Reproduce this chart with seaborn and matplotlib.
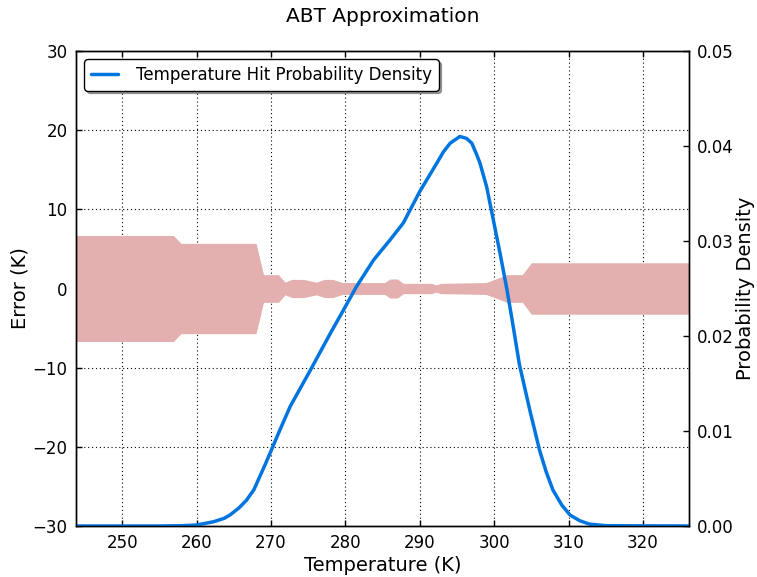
import numpy as np
import pandas as pd
import matplotlib
matplotlib.use("Agg")
import matplotlib.pyplot as plt
import seaborn as sns

# error band (half width, K) along temperature
band_temp = [243.8, 256.9, 257.9, 268.0, 269.0, 271.0, 271.9, 272.8, 274.4, 276.1,
             277.2, 278.3, 279.6, 285.3, 286.0, 287.0, 287.8, 291.6, 292.2, 292.8,
             298.9, 300.2, 301.7, 303.8, 305.0, 326.2]
band_half = [6.7, 6.7, 5.7, 5.7, 1.75, 1.75, 0.8, 1.15, 1.15, 0.8,
             1.15, 1.15, 0.75, 0.75, 1.2, 1.2, 0.65, 0.65, 0.45, 0.65,
             0.75, 1.2, 1.75, 1.75, 3.25, 3.25]

# temperature hit probability density
dens_temp = [243.8, 255.0, 258.0, 260.0, 262.3, 263.7, 264.5, 265.7, 266.7, 267.7,
             268.5, 269.3, 269.9, 271.2, 272.6, 275.3, 278.0, 279.3, 281.5, 283.8,
             286.0, 287.8, 290.0, 292.3, 293.2, 294.1, 295.4, 296.3, 297.0, 297.6,
             298.1, 299.0, 299.9, 300.8, 301.7, 302.4, 303.4, 304.8, 306.1, 307.0,
             307.9, 309.1, 310.2, 311.5, 312.8, 315.0, 326.2]
dens_val = [0.0, 0.0, 0.00003, 0.0001, 0.00045, 0.0008, 0.00116, 0.0019, 0.0027, 0.0038,
            0.0052, 0.0066, 0.0077, 0.0101, 0.0126, 0.0164, 0.0203, 0.0221, 0.0252, 0.028,
            0.0301, 0.0319, 0.0352, 0.0382, 0.0394, 0.0403, 0.0410, 0.0408, 0.0403, 0.0392,
            0.0382, 0.0357, 0.0322, 0.0287, 0.0250, 0.0218, 0.0170, 0.0122, 0.008, 0.0057,
            0.0038, 0.0022, 0.00116, 0.00056, 0.0002, 0.00003, 0.0]

sns.set_style("ticks", {"xtick.direction": "in", "ytick.direction": "in",
                        "axes.edgecolor": "black", "text.color": "black",
                        "axes.labelcolor": "black", "xtick.color": "black",
                        "ytick.color": "black"})
plt.rcParams['font.family'] = ['DejaVu Sans']
plt.rcParams['xtick.top'] = True

df = pd.DataFrame({"T": dens_temp, "density": dens_val})
bt = np.array(band_temp)
bh = np.array(band_half)

fig = plt.figure(figsize=(7.57, 5.77), dpi=100)
ax = fig.add_axes([0.1004, 0.0884, 0.8098, 0.8232])
ax.fill_between(bt, -bh, bh, color="#e4afaf", linewidth=0)
ax.set_xlim(243.8, 326.2)
ax.set_ylim(-30, 30)
ax.set_xticks([250, 260, 270, 280, 290, 300, 310, 320])
ax.set_yticks([-30, -20, -10, 0, 10, 20, 30])
ax.set_yticklabels(["\u221230", "\u221220", "\u221210", "0", "10", "20", "30"])
ax.grid(True, color="black", linestyle=(0, (1, 2.5)), linewidth=0.8)
ax.set_xlabel("Temperature (K)", fontsize=14, labelpad=3)
ax.set_ylabel("Error (K)", fontsize=14, labelpad=2)
ax.set_title("ABT Approximation", fontsize=14.5, pad=21)
ax.tick_params(labelsize=12, length=4, width=1, direction="in", top=True, right=False,
               pad=6, colors="black")

ax2 = ax.twinx()
sns.lineplot(data=df, x="T", y="density", ax=ax2, color="#0075df", linewidth=2.5,
             label="Temperature Hit Probability Density")
ax2.set_ylim(0, 0.05)
ax2.set_xlim(243.8, 326.2)
ax2.set_yticks([0.0, 0.01, 0.02, 0.03, 0.04, 0.05])
ax2.set_yticklabels(["0.00", "0.01", "0.02", "0.03", "0.04", "0.05"])
ax2.set_ylabel("Probability Density", fontsize=14, labelpad=1)
ax2.set_xlabel("")
ax2.tick_params(labelsize=12, length=4, width=1, direction="in", pad=6, colors="black")
for s in list(ax.spines.values()) + list(ax2.spines.values()):
    s.set_color("black")
    s.set_linewidth(1)
leg = ax2.legend(loc="upper left", fontsize=12, fancybox=True, shadow=True,
                 framealpha=1, edgecolor="black", borderaxespad=0.5,
                 handlelength=1.6, handletextpad=1.1)
leg.get_frame().set_linewidth(1)

fig.savefig("out.png", dpi=100)
